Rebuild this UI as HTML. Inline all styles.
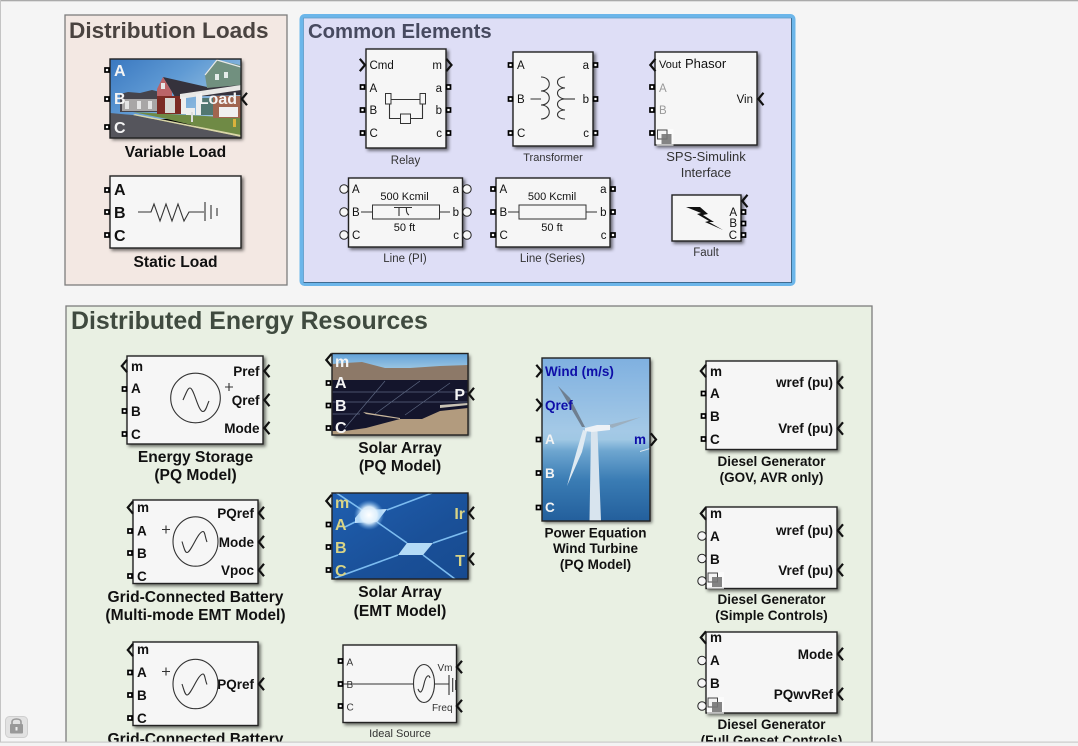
<!DOCTYPE html>
<html>
<head>
<meta charset="utf-8">
<title>Distributed Energy Library</title>
<style>
html,body{margin:0;padding:0;background:#f5f5f5;width:1078px;height:746px;overflow:hidden}
svg{display:block;position:absolute;left:0;top:0}
text{font-family:"Liberation Sans",Arial,sans-serif;fill:#111}
.b{font-weight:bold}
.m{text-anchor:middle}
.e{text-anchor:end}
.s11{font-size:11px}
.s10{font-size:10px}
.s115{font-size:11.5px}
.s13{font-size:13px;font-weight:bold}
.s135{font-size:13.5px;font-weight:bold}
.s156{font-size:15.6px;font-weight:bold}
.s16{font-size:16px;font-weight:bold}
.w{fill:#f4f4f4}
.y{fill:#d9d486}
.bl{fill:#0e0ea8}
.g{fill:#999}
.blk{fill:#f6f6f6;stroke:#222;stroke-width:1.4;filter:drop-shadow(2px 2px 1.5px rgba(0,0,0,.55))}
.fr{fill:none;stroke:#222;stroke-width:1.4}
.sh{fill:#000;filter:drop-shadow(2px 2px 1.5px rgba(0,0,0,.55))}
.ln{fill:none;stroke:#333;stroke-width:1.1}
.gray{font-size:11px;fill:#333}
</style>
</head>
<body>
<svg width="1078" height="746" viewBox="0 0 1078 746" xmlns="http://www.w3.org/2000/svg">
<defs>
<g id="p"><rect x="-2" y="-2" width="4" height="4" fill="#fff" stroke="#000" stroke-width="1.7"/></g>
<g id="cl"><polyline points="6,-6.2 0.8,0 6,6.2" fill="none" stroke="#111" stroke-width="2.2"/></g>
<g id="cr"><polyline points="0.8,-6.2 6,0 0.8,6.2" fill="none" stroke="#111" stroke-width="2.2"/></g>
<g id="o"><circle r="4.2" fill="#f6f6f6" stroke="#222" stroke-width="1"/></g>
<g id="ph">
<rect x="-1" y="-1" width="17" height="17" fill="#fff" opacity=".6"/>
<rect x="0" y="0" width="9.5" height="9" fill="#f4f4f4" stroke="#444" stroke-width="1"/>
<rect x="4" y="4" width="10" height="10" fill="#777" opacity=".9"/>
</g>
<clipPath id="c1"><rect x="110" y="59" width="131" height="79"/></clipPath>
<clipPath id="c2"><rect x="332" y="353" width="136" height="82"/></clipPath>
<clipPath id="c3"><rect x="332" y="493" width="136" height="86"/></clipPath>
<clipPath id="c4"><rect x="542" y="358" width="108" height="163"/></clipPath>
<linearGradient id="sky1" x1="0" y1="0" x2="1" y2=".6"><stop offset="0" stop-color="#3a78c0"/><stop offset=".5" stop-color="#5f9ad4"/><stop offset="1" stop-color="#9cc4e2"/></linearGradient>
<linearGradient id="sky2" x1="0" y1="0" x2="0" y2="1"><stop offset="0" stop-color="#5fa0d8"/><stop offset="1" stop-color="#9cc6e2"/></linearGradient>
<linearGradient id="sol" x1="0" y1="0" x2="1" y2="1"><stop offset="0" stop-color="#1f5fb0"/><stop offset=".6" stop-color="#1a5098"/><stop offset="1" stop-color="#174a90"/></linearGradient>
<linearGradient id="wind" x1="0" y1="0" x2="0" y2="1">
<stop offset="0" stop-color="#7fb0e0"/><stop offset=".45" stop-color="#a4c9e6"/><stop offset=".5" stop-color="#a0c8e4"/><stop offset=".57" stop-color="#6ea6d0"/><stop offset=".75" stop-color="#3a7cb4"/><stop offset="1" stop-color="#235f9c"/>
</linearGradient>
<radialGradient id="glow"><stop offset="0" stop-color="#fff"/><stop offset=".55" stop-color="#dff0fc" stop-opacity=".95"/><stop offset="1" stop-color="#6fb0ea" stop-opacity="0"/></radialGradient>
</defs>

<!-- backdrop -->
<rect width="1078" height="746" fill="#f5f5f5"/>
<rect x="0" y="0" width="1078" height="1.3" fill="#aaa"/>
<rect x="0" y="0" width="1" height="746" fill="#c4c4c4"/>

<!-- Distribution Loads panel -->
<rect x="65" y="15" width="222" height="270" fill="#f3e8e3" stroke="#7d7d7d" stroke-width="1.3"/>
<text x="69" y="38" class="b" style="font-size:22.6px;fill:#4a4340">Distribution Loads</text>

<!-- Variable Load -->
<rect x="110" y="59" width="131" height="79" class="sh"/>
<g clip-path="url(#c1)">
<rect x="110" y="59" width="131" height="60" fill="url(#sky1)"/>
<polygon points="110,113 133,115 241,137 241,138 110,138" fill="#55555c"/>
<polygon points="133,112 241,118 241,137 167,119" fill="#6f8a45"/>
<polygon points="135,114 241,135 241,137 133,115" fill="#d9d6a8"/>
<polygon points="120,94 128,92 140,93 152,90 160,92 160,112 120,112" fill="#45444c"/>
<rect x="122" y="99" width="36" height="12" fill="#a8a6a6"/>
<rect x="125" y="101" width="4" height="8" fill="#e4e4e4"/><rect x="137" y="101" width="4" height="8" fill="#e4e4e4"/><rect x="148" y="101" width="4" height="8" fill="#e4e4e4"/>
<polygon points="163,77 207,87 241,81 241,95 175,97" fill="#35323c"/>
<polygon points="157,89 163,77 172,92 172,100 157,100" fill="#bb6468"/>
<rect x="161" y="83" width="4" height="6" fill="#e8e8e8"/>
<rect x="157" y="96" width="28" height="18" fill="#7c2b24"/>
<rect x="165" y="98" width="10" height="15" fill="#d8d8d4"/>
<polygon points="205,75 217,60 240,65 241,85 207,88" fill="#71907f"/>
<polyline points="205,75 217,60 241,67" fill="none" stroke="#e8e8e8" stroke-width="1.2"/>
<rect x="215" y="74" width="4" height="6" fill="#e6ecea"/><rect x="224" y="72" width="4" height="6" fill="#e6ecea"/>
<polygon points="180,94 241,85 241,90 180,99" fill="#e8e8e6"/>
<rect x="181" y="97" width="5" height="17" fill="#eee"/><rect x="196" y="94" width="5" height="21" fill="#eee"/>
<rect x="201" y="98" width="12" height="17" fill="#527871"/>
<rect x="213" y="96" width="28" height="22" fill="#a16650"/>
<rect x="219" y="107" width="19" height="10" fill="#f0f0f0"/>
<rect x="186" y="108" width="9" height="7" fill="#eee"/>
<rect x="191" y="112" width="2" height="10" fill="#ddd"/>
<rect x="233" y="119" width="3" height="8" fill="#d9b23c"/>
</g>
<rect x="110" y="59" width="131" height="79" class="fr"/>
<text x="114" y="76" class="s16 w">A</text>
<text x="114" y="104" class="s16 w">B</text>
<text x="114" y="133" class="s16 w">C</text>
<text x="237" y="104" class="s16 w e">Load</text>
<use href="#p" x="107" y="70"/><use href="#p" x="107" y="99"/><use href="#p" x="107" y="127"/>
<use href="#cl" x="241" y="99"/>
<text x="175.5" y="157" class="s156 m">Variable Load</text>

<!-- Static Load -->
<rect x="110" y="176" width="131" height="72" class="blk"/>
<text x="114" y="195" class="s16">A</text>
<text x="114" y="218" class="s16">B</text>
<text x="114" y="241" class="s16">C</text>
<use href="#p" x="107" y="190"/><use href="#p" x="107" y="212"/><use href="#p" x="107" y="235"/>
<polyline class="ln" points="138,212 151,212 154,204 160,221 166,204 172,221 178,204 184,221 189,212 204,212"/>
<path class="ln" d="M205,202V221M211,205V219M217,208V216"/>
<text x="175.5" y="267" class="s156 m">Static Load</text>

<!-- Common Elements panel -->
<rect x="301.5" y="16" width="492" height="268" rx="3" fill="#dedef6" stroke="#6cb6ea" stroke-width="4"/>
<path d="M303.5,282.5H791.5V18" fill="none" stroke="#3f6c92" stroke-width="1"/>
<path d="M303.5,282.5V18H791.5" fill="none" stroke="#5f9cc8" stroke-width=".8"/>
<text x="308" y="38" class="b" style="font-size:20.3px;fill:#474a60">Common Elements</text>

<!-- Relay -->
<rect x="366" y="49" width="80" height="99" class="blk"/>
<text x="369.5" y="69" class="s115">Cmd</text><text x="442" y="69" class="s115 e">m</text>
<text x="369.5" y="92" class="s115">A</text><text x="442" y="92" class="s115 e">a</text>
<text x="369.5" y="114" class="s115">B</text><text x="442" y="114" class="s115 e">b</text>
<text x="369.5" y="137" class="s115">C</text><text x="442" y="137" class="s115 e">c</text>
<use href="#cr" x="359" y="65"/><use href="#cr" x="445.5" y="65"/>
<use href="#p" x="362.5" y="87"/><use href="#p" x="362.5" y="110"/><use href="#p" x="362.5" y="133"/>
<use href="#p" x="448.5" y="87"/><use href="#p" x="448.5" y="110"/><use href="#p" x="448.5" y="133"/>
<path class="ln" d="M391,99.5H420M389.5,104V118.5H400.5M410.5,118.5H422.5V104"/>
<rect x="385.5" y="93.5" width="5.5" height="10.5" fill="#f6f6f6" stroke="#333"/>
<rect x="420" y="93.5" width="5.5" height="10.5" fill="#f6f6f6" stroke="#333"/>
<rect x="400.5" y="114" width="10" height="9.5" fill="#f6f6f6" stroke="#333"/>
<text x="405.5" y="164" class="s115 m" style="fill:#333">Relay</text>

<!-- Transformer -->
<rect x="513" y="52" width="80" height="94" class="blk"/>
<text x="517" y="69" class="s115">A</text><text x="589" y="69" class="s115 e">a</text>
<text x="517" y="103" class="s115">B</text><text x="589" y="103" class="s115 e">b</text>
<text x="517" y="137" class="s115">C</text><text x="589" y="137" class="s115 e">c</text>
<use href="#p" x="510.5" y="65"/><use href="#p" x="510.5" y="99"/><use href="#p" x="510.5" y="133"/>
<use href="#p" x="595.5" y="65"/><use href="#p" x="595.5" y="99"/><use href="#p" x="595.5" y="133"/>
<path class="ln" d="M530.5,99H541M541,77C552,77 552,91 541,91C552,91 552,105 541,105C552,105 552,119 541,119"/>
<path class="ln" d="M565,77C555,77 555,87 565,88C555,88 555,98 565,99C555,99 555,109 565,110C555,110 555,119 565,119"/>
<path class="ln" d="M565,99H575"/>
<text x="553" y="161" class="s11 m" style="fill:#333">Transformer</text>

<!-- SPS-Simulink Interface -->
<rect x="655" y="52" width="102" height="93" class="blk"/>
<text x="659" y="68" class="s11">Vout</text><text x="685" y="68" style="font-size:13px">Phasor</text>
<text x="659" y="92" class="s115 g">A</text><text x="659" y="114" class="s115 g">B</text>
<text x="753" y="103" class="s115 e">Vin</text>
<use href="#cl" x="649.5" y="65"/><use href="#cl" x="757.5" y="99"/>
<use href="#p" x="652" y="87"/><use href="#p" x="652" y="110"/><use href="#p" x="652" y="133"/>
<use href="#ph" x="657.5" y="130"/>
<text x="706" y="161" style="font-size:13px;fill:#333" class="m">SPS-Simulink</text>
<text x="706" y="177" style="font-size:13px;fill:#333" class="m">Interface</text>

<!-- Line PI -->
<rect x="348.5" y="178" width="114" height="69" class="blk"/>
<text x="352" y="193" class="s115">A</text><text x="352" y="216" class="s115">B</text><text x="352" y="239" class="s115">C</text>
<text x="459" y="193" class="s115 e">a</text><text x="459" y="216" class="s115 e">b</text><text x="459" y="239" class="s115 e">c</text>
<use href="#o" x="344" y="189"/><use href="#o" x="344" y="212"/><use href="#o" x="344" y="235"/>
<use href="#o" x="467" y="189"/><use href="#o" x="467" y="212"/><use href="#o" x="467" y="235"/>
<text x="404.5" y="200" class="s11 m">500 Kcmil</text><text x="404.5" y="231" class="s11 m">50 ft</text>
<rect x="372.5" y="205" width="67" height="14" fill="#f6f6f6" stroke="#333"/>
<path class="ln" d="M361,212H372.5M439.5,212H450M394,207.5H412M399,207.5V216M406.5,207.5C406,212 407,214 409,215"/>
<text x="405" y="262" class="s115 m" style="fill:#333">Line (PI)</text>

<!-- Line Series -->
<rect x="496" y="178" width="114" height="69" class="blk"/>
<text x="499.5" y="193" class="s115">A</text><text x="499.5" y="216" class="s115">B</text><text x="499.5" y="239" class="s115">C</text>
<text x="606.5" y="193" class="s115 e">a</text><text x="606.5" y="216" class="s115 e">b</text><text x="606.5" y="239" class="s115 e">c</text>
<use href="#p" x="493" y="189"/><use href="#p" x="493" y="212"/><use href="#p" x="493" y="235"/>
<use href="#p" x="613" y="189"/><use href="#p" x="613" y="212"/><use href="#p" x="613" y="235"/>
<text x="552" y="200" class="s11 m">500 Kcmil</text><text x="552" y="231" class="s11 m">50 ft</text>
<rect x="519" y="205" width="67" height="14" fill="#f6f6f6" stroke="#333"/>
<path class="ln" d="M508,212H519M586,212H597"/>
<text x="552.5" y="262" class="s115 m" style="fill:#333">Line (Series)</text>

<!-- Fault -->
<rect x="672" y="195" width="69" height="46" class="blk"/>
<polygon points="686,207 700,207 708,214 703,215 714,222 709,222 723,230 705,222 709,221 697,214 701,213" fill="#111"/>
<text x="737" y="216" class="s115 e">A</text><text x="737" y="227" class="s115 e">B</text><text x="737" y="239" class="s115 e">C</text>
<use href="#cl" x="741.5" y="201"/>
<use href="#p" x="743.5" y="212"/><use href="#p" x="743.5" y="223.5"/><use href="#p" x="743.5" y="235"/>
<text x="706" y="256" class="s115 m" style="fill:#333">Fault</text>

<!-- DER panel -->
<rect x="66" y="306" width="806" height="460" fill="#e9f0e3" stroke="#7d7d7d" stroke-width="1.3"/>
<text x="71" y="329" class="b" style="font-size:24.9px;fill:#3f4a3f">Distributed Energy Resources</text>

<!-- Energy Storage -->
<rect x="127" y="356" width="136" height="88" class="blk"/>
<text x="131" y="371" class="s135">m</text><text x="131" y="393" class="s135">A</text><text x="131" y="416" class="s135">B</text><text x="131" y="439" class="s135">C</text>
<text x="259.5" y="376" class="s135 e">Pref</text><text x="259.5" y="405" class="s135 e">Qref</text><text x="259.5" y="433" class="s135 e">Mode</text>
<use href="#cl" x="121" y="366"/>
<use href="#p" x="124.5" y="389"/><use href="#p" x="124.5" y="411"/><use href="#p" x="124.5" y="434"/>
<use href="#cl" x="263.5" y="371"/><use href="#cl" x="263.5" y="400"/><use href="#cl" x="263.5" y="428"/>
<circle cx="195.5" cy="398" r="24.8" fill="none" stroke="#333" stroke-width="1.1"/>
<path class="ln" d="M183,400C187,391 188,388 190,388C194,388 198,411.5 203,411.5C206,411.5 207,405 209,401"/>
<path class="ln" d="M225,387H233M229,383V391"/>
<text x="195.5" y="462" class="s156 m">Energy Storage</text>
<text x="195.5" y="480" class="s156 m">(PQ Model)</text>

<!-- Grid battery 1 -->
<rect x="133" y="500" width="125" height="83.5" class="blk"/>
<text x="137" y="512" class="s135">m</text><text x="137" y="535.5" class="s135">A</text><text x="137" y="558" class="s135">B</text><text x="137" y="581" class="s135">C</text>
<text x="254" y="518" class="s135 e">PQref</text><text x="254" y="547" class="s135 e">Mode</text><text x="254" y="575" class="s135 e">Vpoc</text>
<use href="#cl" x="127" y="507.5"/>
<use href="#p" x="130" y="531"/><use href="#p" x="130" y="553"/><use href="#p" x="130" y="576"/>
<use href="#cl" x="258" y="513"/><use href="#cl" x="258" y="542"/><use href="#cl" x="258" y="570"/>
<ellipse cx="195.5" cy="541.5" rx="22.5" ry="24.7" fill="none" stroke="#333" stroke-width="1.1"/>
<path class="ln" d="M182,541.5C184,548 185,552.5 187,552.5C191,552.5 198,531.5 203,531.5C205,531.5 205,537 207,542"/>
<path class="ln" d="M162,529.5H170M166,525.5V533.5"/>
<text x="195.5" y="602" class="s156 m">Grid-Connected Battery</text>
<text x="195.5" y="620" class="s156 m">(Multi-mode EMT Model)</text>

<!-- Grid battery 2 -->
<rect x="133" y="642" width="125" height="83.5" class="blk"/>
<text x="137" y="654" class="s135">m</text><text x="137" y="677" class="s135">A</text><text x="137" y="700" class="s135">B</text><text x="137" y="723" class="s135">C</text>
<text x="254" y="689" class="s135 e">PQref</text>
<use href="#cl" x="127" y="650"/>
<use href="#p" x="130" y="672.5"/><use href="#p" x="130" y="695"/><use href="#p" x="130" y="718"/>
<use href="#cl" x="258" y="684"/>
<ellipse cx="195.5" cy="684" rx="22.5" ry="24.7" fill="none" stroke="#333" stroke-width="1.1"/>
<path class="ln" d="M182,684C184,690 185,695 187,695C191,695 198,674 203,674C205,674 205,680 207,684.5"/>
<path class="ln" d="M162,671.5H170M166,667.5V675.5"/>
<text x="195.5" y="744" class="s156 m">Grid-Connected Battery</text>

<!-- Solar PQ -->
<rect x="332" y="353.5" width="136" height="81.5" class="sh"/>
<g clip-path="url(#c2)">
<rect x="332" y="353" width="136" height="16" fill="url(#sky2)"/>
<polygon points="332,364 345,363 362,362 385,368 410,368 440,366 468,365 468,381 332,381" fill="#8d7968"/>
<rect x="332" y="380" width="136" height="55" fill="#14152c"/>
<path d="M332,392H468M332,402H468M345,428L385,381M375,414L420,381M405,415L450,383M332,414H360" stroke="#5c6680" stroke-width=".7" fill="none"/>
<polygon points="468,408 440,411 422,419 400,419 366,428 345,431 332,431 332,436 468,436" fill="#b29b7e"/>
<polygon points="363,412 400,418 400,419 366,414" fill="#c8b69c"/>
<polygon points="440,405 468,403 468,405 440,408" fill="#c8c2b4"/>
</g>
<rect x="332" y="353.5" width="136" height="81.5" class="fr"/>
<text x="335" y="367" class="s16 w">m</text><text x="335" y="388" class="s16 w">A</text><text x="335" y="411" class="s16 w">B</text><text x="335" y="433" class="s16 w">C</text>
<text x="465" y="400" class="s16 w e">P</text>
<use href="#cl" x="325.5" y="360"/>
<use href="#p" x="328.5" y="383"/><use href="#p" x="328.5" y="405.5"/><use href="#p" x="328.5" y="428"/>
<use href="#cl" x="468" y="394"/>
<text x="400" y="453" class="s156 m">Solar Array</text>
<text x="400" y="471" class="s156 m">(PQ Model)</text>

<!-- Solar EMT -->
<rect x="332" y="493" width="136" height="86" class="sh"/>
<g clip-path="url(#c3)">
<rect x="332" y="493" width="136" height="86" fill="url(#sol)"/>
<path d="M332,490L362,510M387,510L432,493M377,522L407,543M433,543L468,531M398,555L335,578M423,555L455,579M355,522L345,527" stroke="#7cbcf0" stroke-width="1.6" fill="none"/>
<polygon points="355,518 362,510 387,509 377,522 355,523" fill="#bfe0fa"/>
<polygon points="398,555 407,543 433,543 423,555" fill="#b4dbf6"/>
<circle cx="369" cy="515" r="15" fill="url(#glow)"/>
</g>
<rect x="332" y="493" width="136" height="86" class="fr"/>
<text x="335" y="508" class="s16 y">m</text><text x="335" y="530" class="s16 y">A</text><text x="335" y="553" class="s16 y">B</text><text x="335" y="576" class="s16 y">C</text>
<text x="465" y="519" class="s16 y e">Ir</text><text x="465" y="566" class="s16 y e">T</text>
<use href="#cl" x="325.5" y="501"/>
<use href="#p" x="328.5" y="524.5"/><use href="#p" x="328.5" y="547"/><use href="#p" x="328.5" y="570"/>
<use href="#cl" x="468" y="513"/><use href="#cl" x="468" y="559"/>
<text x="400" y="597" class="s156 m">Solar Array</text>
<text x="400" y="616" class="s156 m">(EMT Model)</text>

<!-- Ideal Source -->
<rect x="343" y="645" width="113.5" height="77.5" class="blk"/>
<path class="ln" d="M343,684H413.5M434.5,684H449"/>
<ellipse cx="424" cy="683.5" rx="10.5" ry="19" fill="none" stroke="#333" stroke-width="1.1"/>
<path class="ln" d="M418,689C420,694 422,693 424,684C426,675 429,674 430,678"/>
<path d="M449,675V695M452.7,678V692M455.7,680V690" stroke="#333" stroke-width="1.1" fill="none"/>
<text x="346.5" y="665.5" class="gray" style="font-size:10px">A</text><text x="346.5" y="688" class="gray" style="font-size:10px">B</text><text x="346.5" y="710.5" class="gray" style="font-size:10px">C</text>
<text x="452.5" y="671" class="gray e" style="font-size:10px">Vm</text><text x="452.5" y="711" class="gray e" style="font-size:10px">Freq</text>
<use href="#p" x="340.5" y="661"/><use href="#p" x="340.5" y="684"/><use href="#p" x="340.5" y="706"/>
<use href="#cl" x="456" y="667"/><use href="#cl" x="456" y="706"/>
<text x="400" y="737" class="s11 m" style="fill:#333">Ideal Source</text>

<!-- Wind turbine -->
<rect x="542" y="358" width="108" height="163" class="sh"/>
<g clip-path="url(#c4)">
<rect x="542" y="358" width="108" height="163" fill="url(#wind)"/>
<polygon points="591,431 597.5,431 601,521 589.5,521" fill="#d8e4ee"/>
<polygon points="558,386 570,398 585,427 582,427" fill="#6f7f90"/>
<polygon points="608,425 625,421 641,417 612,428" fill="#9cafbf"/>
<polygon points="587,431 582,452 567,486 577,450 583,430" fill="#dfeaf2"/>
<polygon points="585,428 597,425 610,425 610,430 592,432 585,431" fill="#eef2f6"/>
<polygon points="640,451 650,448 650,449 640,452" fill="#dfeaf2"/>
</g>
<rect x="542" y="358" width="108" height="163" class="fr"/>
<text x="545" y="376" class="s135 bl">Wind (m/s)</text><text x="545" y="410" class="s135 bl">Qref</text>
<text x="545" y="444" class="s135 w">A</text><text x="545" y="478" class="s135 w">B</text><text x="545" y="512" class="s135 w">C</text>
<text x="646" y="444" class="s135 bl e">m</text>
<use href="#cr" x="535.5" y="371"/><use href="#cr" x="535.5" y="405"/><use href="#cr" x="650" y="439.5"/>
<use href="#p" x="538.5" y="439.5"/><use href="#p" x="538.5" y="473"/><use href="#p" x="538.5" y="507.5"/>
<text x="595.5" y="537.5" class="s135 m">Power Equation</text>
<text x="595.5" y="553" class="s135 m">Wind Turbine</text>
<text x="595.5" y="569" class="s135 m">(PQ Model)</text>

<!-- Diesel 1 -->
<rect x="706" y="361" width="131" height="88.5" class="blk"/>
<text x="710" y="376" class="s135">m</text><text x="710" y="398" class="s135">A</text><text x="710" y="421" class="s135">B</text><text x="710" y="444" class="s135">C</text>
<text x="833" y="387" class="s135 e">wref (pu)</text><text x="833" y="433" class="s135 e">Vref (pu)</text>
<use href="#cl" x="700" y="371"/>
<use href="#p" x="703.5" y="393.5"/><use href="#p" x="703.5" y="416"/><use href="#p" x="703.5" y="439"/>
<use href="#cl" x="837" y="382.5"/><use href="#cl" x="837" y="428.5"/>
<text x="771.5" y="466" class="s135 m">Diesel Generator</text>
<text x="771.5" y="482" class="s135 m">(GOV, AVR only)</text>

<!-- Diesel 2 -->
<rect x="706" y="507" width="131" height="81.5" class="blk"/>
<text x="710" y="518" class="s135">m</text><text x="710" y="541" class="s135">A</text><text x="710" y="564" class="s135">B</text>
<text x="833" y="535" class="s135 e">wref (pu)</text><text x="833" y="575" class="s135 e">Vref (pu)</text>
<use href="#cl" x="700" y="513.5"/>
<use href="#o" x="702" y="536"/><use href="#o" x="702" y="558.5"/><use href="#o" x="702" y="581"/>
<use href="#cl" x="837" y="530.5"/><use href="#cl" x="837" y="570"/>
<use href="#ph" x="708" y="573"/>
<text x="771.5" y="604" class="s135 m">Diesel Generator</text>
<text x="771.5" y="620" class="s135 m">(Simple Controls)</text>

<!-- Diesel 3 -->
<rect x="706" y="632" width="131" height="81" class="blk"/>
<text x="710" y="642" class="s135">m</text><text x="710" y="665" class="s135">A</text><text x="710" y="688" class="s135">B</text>
<text x="833" y="659" class="s135 e">Mode</text><text x="833" y="699" class="s135 e">PQwvRef</text>
<use href="#cl" x="700" y="637.5"/>
<use href="#o" x="702" y="660.5"/><use href="#o" x="702" y="683"/><use href="#o" x="702" y="706"/>
<use href="#cl" x="837" y="654"/><use href="#cl" x="837" y="694"/>
<use href="#ph" x="708" y="698"/>
<text x="771.5" y="729" class="s135 m">Diesel Generator</text>
<text x="771.5" y="745" class="s135 m">(Full Genset Controls)</text>

<!-- status bar -->
<rect x="0" y="742" width="1078" height="4" fill="#f3f3f3"/>
<rect x="0" y="741.6" width="1078" height="1" fill="#c2c2c2"/>

<!-- lock -->
<rect x="5.5" y="716.5" width="22" height="21" rx="4" fill="#e2e2e2" stroke="#cfcfcf"/>
<path d="M12,724V722C12,718 21,718 21,722V724" fill="none" stroke="#9a9a9a" stroke-width="1.6"/>
<rect x="10" y="724" width="13" height="9.5" rx="1" fill="#999"/>
<rect x="15.5" y="727" width="2" height="3.5" fill="#eee"/>
</svg>
</body>
</html>
